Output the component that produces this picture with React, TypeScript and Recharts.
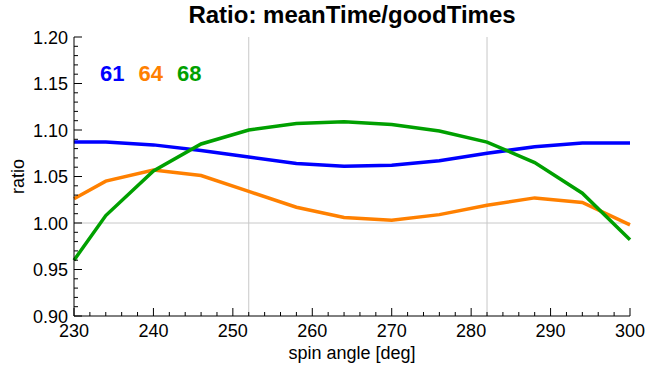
import React from 'react';
import { LineChart, Line, XAxis, YAxis, ReferenceLine } from 'recharts';

const angles = [230, 234, 240, 246, 252, 258, 264, 270, 276, 282, 288, 294, 300];
const run61 = [1.087, 1.087, 1.084, 1.078, 1.071, 1.064, 1.061, 1.062, 1.067, 1.075, 1.082, 1.086, 1.086];
const run64 = [1.026, 1.045, 1.057, 1.051, 1.034, 1.017, 1.006, 1.003, 1.009, 1.019, 1.027, 1.022, 0.998];
const run68 = [0.960, 1.008, 1.056, 1.085, 1.100, 1.107, 1.109, 1.106, 1.099, 1.087, 1.065, 1.032, 0.982];

const xMajor = [230, 240, 250, 260, 270, 280, 290, 300];
const yMajor = [0.9, 0.95, 1.0, 1.05, 1.1, 1.15, 1.2];
const gridX = [252, 282];

const series = [
  { key: 'r61', name: '61', color: '#0000ff', values: run61 },
  { key: 'r64', name: '64', color: '#ff8000', values: run64 },
  { key: 'r68', name: '68', color: '#00a000', values: run68 },
];

const data = angles.map((a, i) => {
  const row: Record<string, number> = { angle: a };
  series.forEach((s) => (row[s.key] = s.values[i]));
  return row;
});

// minor + major tick positions
const xTicks: number[] = [];
for (let v = 230; v <= 300; v += 2) xTicks.push(v);
const yTicks: number[] = [];
for (let i = 90; i <= 120; i++) yTicks.push(i / 100);

const isMajorX = (v: number) => xMajor.includes(v);
const isMajorY = (v: number) => yMajor.some((m) => Math.abs(m - v) < 1e-6);

const FONT = '"Liberation Sans", Arial, sans-serif';
const M = 6;

const BottomTick = (p: any) => {
  const v = p.payload.value;
  const major = isMajorX(v);
  const y0 = p.y - M;
  return (
    <g>
      <line x1={p.x} x2={p.x} y1={y0} y2={y0 - (major ? 8 : 4)} stroke="#000" />
      {major && (
        <text x={p.x} y={p.y + 15} textAnchor="middle" fontSize={18} fill="#000" fontFamily={FONT}>
          {v}
        </text>
      )}
    </g>
  );
};

const TopTick = (p: any) => {
  const major = isMajorX(p.payload.value);
  const y0 = p.y + M;
  return <line x1={p.x} x2={p.x} y1={y0} y2={y0 + (major ? 8 : 4)} stroke="#000" />;
};

const LeftTick = (p: any) => {
  const v = p.payload.value;
  const major = isMajorY(v);
  const x0 = p.x + M;
  return (
    <g>
      <line x1={x0} x2={x0 + (major ? 8 : 4)} y1={p.y} y2={p.y} stroke="#000" />
      {major && (
        <text x={p.x} y={p.y + 6.5} textAnchor="end" fontSize={18} fill="#000" fontFamily={FONT}>
          {v.toFixed(2)}
        </text>
      )}
    </g>
  );
};

const RightTick = (p: any) => {
  const major = isMajorY(p.payload.value);
  const x0 = p.x - M;
  return <line x1={x0} x2={x0 - (major ? 8 : 4)} y1={p.y} y2={p.y} stroke="#000" />;
};

const XLabel = (p: any) => {
  const vb = p.viewBox;
  return (
    <text x={vb.x + vb.width / 2} y={vb.y + 43} textAnchor="middle" fontSize={18} fill="#000" fontFamily={FONT}>
      spin angle [deg]
    </text>
  );
};

const YLabel = (p: any) => {
  const vb = p.viewBox;
  const x = 24;
  const y = vb.y + vb.height / 2;
  return (
    <text x={x} y={y} transform={`rotate(-90, ${x}, ${y})`} textAnchor="middle" fontSize={18} fill="#000" fontFamily={FONT}>
      ratio
    </text>
  );
};

export default function App() {
  return (
    <div style={{ position: 'absolute', left: 0, top: 0, width: 645, height: 366, background: '#fff' }}>
      <div
        style={{
          position: 'absolute', left: 74, width: 556, top: 1, textAlign: 'center',
          fontFamily: FONT, fontWeight: 'bold', fontSize: 24, color: '#000', whiteSpace: 'nowrap',
        }}
      >
        Ratio: meanTime/goodTimes
      </div>
      <div
        style={{
          position: 'absolute', left: 100, top: 61, display: 'flex', gap: 14, zIndex: 1,
          fontFamily: FONT, fontWeight: 'bold', fontSize: 22,
        }}
      >
        {series.map((s) => (
          <span key={s.key} style={{ color: s.color }}>{s.name}</span>
        ))}
      </div>
      <LineChart width={645} height={366} data={data} margin={{ top: 37, right: 15, bottom: 0, left: 0 }}>
        {gridX.map((g) => (
          <ReferenceLine key={g} x={g} stroke="#c8c8c8" strokeWidth={1} />
        ))}
        <ReferenceLine y={1.0} stroke="#c8c8c8" strokeWidth={1} />
        <XAxis
          dataKey="angle" type="number" domain={[230, 300]} ticks={xTicks} interval={0}
          height={50} tickSize={0} tickMargin={M} tick={BottomTick} stroke="#000"
          label={<XLabel />}
        />
        <XAxis
          xAxisId="top" orientation="top" dataKey="angle" type="number" domain={[230, 300]} ticks={xTicks}
          interval={0} height={0} tickSize={0} tickMargin={M} tick={TopTick} stroke="#000"
        />
        <YAxis
          type="number" domain={[0.9, 1.2]} ticks={yTicks} interval={0} width={74} tickSize={0} tickMargin={M}
          tick={LeftTick} stroke="#000" allowDataOverflow
          label={<YLabel />}
        />
        <YAxis
          yAxisId="right" orientation="right" type="number" domain={[0.9, 1.2]} ticks={yTicks} interval={0}
          width={0} tickSize={0} tickMargin={M} tick={RightTick} stroke="#000" allowDataOverflow
        />
        {series.map((s) => (
          <Line
            key={s.key} dataKey={s.key} name={s.name} stroke={s.color} strokeWidth={3.5}
            dot={false} type="linear" isAnimationActive={false}
          />
        ))}
      </LineChart>
    </div>
  );
}
